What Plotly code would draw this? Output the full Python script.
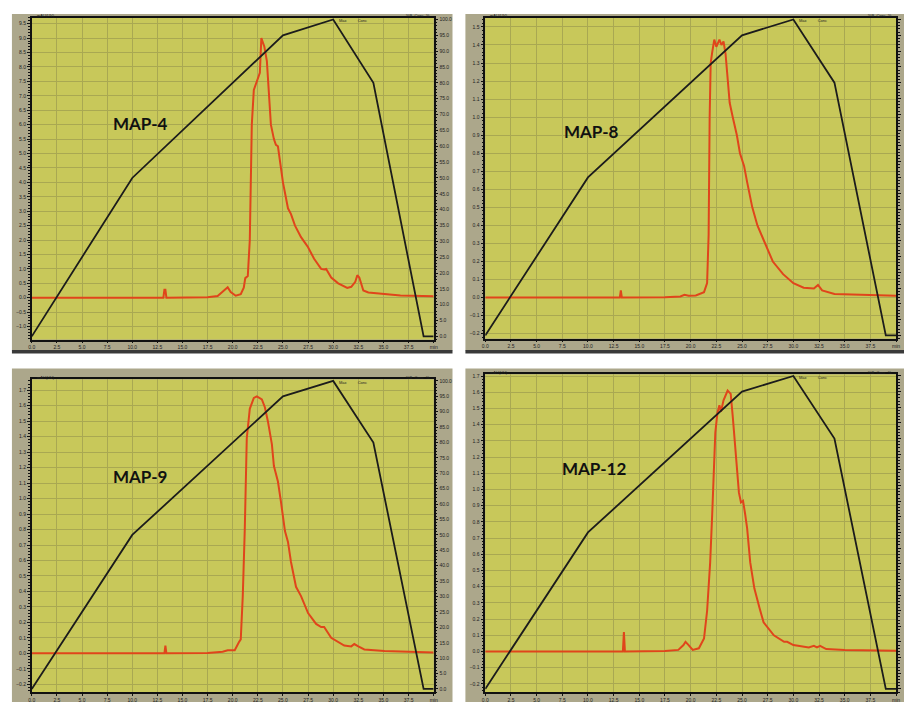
import plotly.graph_objects as go

W, H = 908, 703

# ---------------- data ----------------
x_tick_vals = [0, 2.5, 5, 7.5, 10, 12.5, 15, 17.5, 20, 22.5, 25, 27.5, 30, 32.5, 35, 37.5, 40]
x_tick_text = ["0.0", "2.5", "5.0", "7.5", "10.0", "12.5", "15.0", "17.5", "20.0",
               "22.5", "25.0", "27.5", "30.0", "32.5", "35.0", "37.5", "min"]

# solvent gradient (% B), shared by all four runs
grad_time = [0, 10, 25, 30, 34, 39, 40]
grad_pct = [0, 50, 95, 100, 80, 0, 0]

# MAP-4 absorbance trace
map4_time = [0, 13.1, 13.2, 13.3, 13.4,
             17.5, 18.5, 19.2, 19.5, 19.8,
             20.3, 20.8, 21.1, 21.25, 21.5,
             21.7, 21.9, 22.1, 22.5, 22.7,
             22.85, 23.0, 23.15, 23.4, 23.6,
             23.8, 24.1, 24.3, 24.5, 24.8,
             25.0, 25.5, 25.8, 26.2, 26.8,
             27.2, 27.5, 28.1, 28.8, 29.1,
             29.3, 29.8, 30.5, 31.4, 31.8,
             32.2, 32.4, 32.6, 33.0, 33.5,
             35.0, 36.7, 40.0]
map4_abs = [0, 0, 0.28, 0.28, 0.0,
            0.02, 0.06, 0.25, 0.36, 0.2,
            0.07, 0.12, 0.35, 0.68, 0.75,
            2.0, 6.0, 7.2, 7.6, 7.8,
            9.0, 8.8, 8.7, 8.2, 7.0,
            6.0, 5.5, 5.3, 5.25, 4.5,
            4.0, 3.1, 2.9, 2.5, 2.1,
            1.9, 1.75, 1.35, 1.0, 0.98,
            1.0, 0.7, 0.5, 0.34, 0.38,
            0.55, 0.78, 0.7, 0.25, 0.18,
            0.13, 0.08, 0.05]

# MAP-8 absorbance trace
map8_time = [0, 13.1, 13.2, 13.3, 17.5,
             19.0, 19.4, 19.8, 20.5, 21.3,
             21.6, 21.75, 21.85, 21.95, 22.1,
             22.3, 22.5, 22.8, 23.0, 23.2,
             23.4, 23.8, 24.1, 24.5, 24.8,
             25.2, 25.5, 26.0, 26.5, 27.0,
             27.5, 28.0, 29.0, 30.0, 31.0,
             32.0, 32.4, 32.8, 34.0, 40.0]
map8_abs = [0, 0, 0.04, 0.0, 0.002,
            0.006, 0.015, 0.01, 0.012, 0.03,
            0.08, 0.35, 1.0, 1.3, 1.36,
            1.43, 1.39, 1.43, 1.40, 1.42,
            1.35, 1.08, 1.0, 0.9, 0.8,
            0.73, 0.64, 0.5, 0.4, 0.33,
            0.27, 0.2, 0.13, 0.08, 0.055,
            0.05, 0.07, 0.04, 0.02, 0.01]

# MAP-9 absorbance trace
map9_time = [0, 13.2, 13.3, 13.4, 17.5,
             19.0, 19.5, 19.9, 20.2, 20.6,
             20.8, 21.0, 21.2, 21.4, 21.7,
             22.1, 22.4, 22.9, 23.2, 23.5,
             23.9, 24.1, 24.5, 24.8, 25.2,
             25.5, 25.8, 26.3, 26.8, 27.5,
             28.3, 28.8, 29.1, 29.8, 31.1,
             31.8, 32.1, 32.5, 33.1, 35.1,
             40.0]
map9_abs = [0, 0, 0.05, 0.0, 0.003,
            0.01, 0.02, 0.02, 0.02, 0.07,
            0.09, 0.37, 0.8, 1.39, 1.58,
            1.65, 1.66, 1.64, 1.59, 1.5,
            1.35, 1.21, 1.11, 0.98, 0.79,
            0.72, 0.59, 0.43, 0.37, 0.26,
            0.19, 0.17, 0.17, 0.10, 0.05,
            0.045, 0.06, 0.045, 0.025, 0.015,
            0.005]

# MAP-12 absorbance trace
map12_time = [0, 13.4, 13.5, 13.6, 17.5,
              18.8, 19.3, 19.5, 19.8, 20.2,
              20.8, 21.3, 21.6, 21.9, 22.1,
              22.4, 22.6, 22.8, 22.95, 23.2,
              23.6, 23.9, 24.1, 24.4, 24.7,
              24.9, 25.1, 25.3, 25.5, 25.8,
              26.2, 26.7, 27.1, 28.1, 29.1,
              29.4, 30.0, 31.5, 32.0, 32.3,
              32.6, 33.2, 35.0, 40.0]
map12_abs = [0, 0, 0.12, 0.0, 0.003,
             0.01, 0.04, 0.06, 0.04, 0.01,
             0.02, 0.08, 0.25, 0.55, 0.85,
             1.35, 1.47, 1.52, 1.48, 1.55,
             1.61, 1.59, 1.45, 1.2, 0.98,
             0.92, 0.93, 0.85, 0.76, 0.55,
             0.39, 0.27, 0.18, 0.1, 0.06,
             0.06, 0.04, 0.025, 0.035, 0.025,
             0.035, 0.015, 0.01, 0.005]

panel_labels = ["MAP-4", "MAP-8", "MAP-9", "MAP-12"]
abs_ranges = [[-1.45, 9.7], [-0.227, 1.55], [-0.25, 1.77], [-0.25, 1.71]]
abs_dticks = [0.5, 0.1, 0.1, 0.1]

# ---------------- layout geometry (pixels) ----------------
plots_px = [  # x0, x1, ytop, ybottom
    (29, 434, 16, 339),
    (486, 900, 16, 338),
    (29, 434, 379, 693),
    (486, 900, 374, 693),
]
frames_px = [
    (9, 453, 12, 350),
    (466, 908, 12, 350),
    (9, 453, 368, 703),
    (466, 908, 368, 703),
]
label_pos = [(139, 122), (593, 130), (138, 477), (596, 468)]

PLOT_BG = "#c8c85a"
FRAME = "#aca78b"
GRID = "#a9a852"
RED = "#e0451b"
BLACK = "#1c1c1c"

def px(x):
    return x / W

def py(y):
    return 1 - y / H

fig = go.Figure()
traces = [(map4_time, map4_abs), (map8_time, map8_abs), (map9_time, map9_abs), (map12_time, map12_abs)]

shapes = []
annotations = []
layout_axes = {}

for i in range(4):
    n = i + 1
    xname = "x" if n == 1 else f"x{n}"
    yl = 2 * n - 1
    yr = 2 * n
    ylname = "y" if yl == 1 else f"y{yl}"
    yrname = f"y{yr}"
    x0, x1, yt, yb = plots_px[i]
    fx0, fx1, fyt, fyb = frames_px[i]

    # frame and plotting area background
    shapes.append(dict(type="rect", xref="paper", yref="paper", layer="below",
                       x0=px(fx0), x1=px(fx1), y0=py(fyb), y1=py(fyt),
                       fillcolor=FRAME, line=dict(width=0)))
    shapes.append(dict(type="rect", xref="paper", yref="paper", layer="below",
                       x0=px(x0), x1=px(x1), y0=py(yb), y1=py(yt),
                       fillcolor=PLOT_BG, line=dict(width=0)))
    if i < 2:
        shapes.append(dict(type="rect", xref="paper", yref="paper", layer="below",
                           x0=px(fx0), x1=px(fx1), y0=py(353), y1=py(349.5),
                           fillcolor="#3a3a3a", line=dict(width=0)))

    t, a = traces[i]
    fig.add_trace(go.Scatter(x=t, y=a, mode="lines", xaxis=xname, yaxis=ylname,
                             line=dict(color=RED, width=2), showlegend=False,
                             hoverinfo="skip"))
    fig.add_trace(go.Scatter(x=grad_time, y=grad_pct, mode="lines", xaxis=xname, yaxis=yrname,
                             line=dict(color=BLACK, width=1.8), showlegend=False,
                             hoverinfo="skip"))

    xkey = "xaxis" if n == 1 else f"xaxis{n}"
    ylkey = "yaxis" if yl == 1 else f"yaxis{yl}"
    yrkey = f"yaxis{yr}"
    tickfont = dict(size=5, color="#222222", family="Liberation Sans")
    layout_axes[xkey] = dict(domain=[px(x0), px(x1)], anchor=ylname, range=[0, 40],
                             tickvals=x_tick_vals, ticktext=x_tick_text,
                             showgrid=True, gridcolor=GRID, gridwidth=1,
                             showline=True, linecolor="#111111", linewidth=1.5, mirror=True,
                             ticks="outside", ticklen=2, tickcolor="#111111",
                             tickfont=tickfont, zeroline=False, fixedrange=True)
    d = abs_dticks[i]
    layout_axes[ylkey] = dict(domain=[py(yb), py(yt)], anchor=xname, range=abs_ranges[i],
                              dtick=d, tick0=0, tickformat=".1f",
                              showgrid=True, gridcolor=GRID, gridwidth=1,
                              showline=True, linecolor="#111111", linewidth=1.5,
                              ticks="outside", ticklen=3, tickcolor="#111111",
                              minor=dict(ticks="outside", ticklen=2, dtick=d / 5,
                                         tickcolor="#111111", showgrid=False),
                              tickfont=tickfont, zeroline=False, fixedrange=True)
    layout_axes[yrkey] = dict(overlaying=ylname, side="right", anchor=xname,
                              range=[-1, 100.5], dtick=5, tick0=0, tickformat=".1f",
                              showgrid=False, showline=True, linecolor="#111111", linewidth=1.5,
                              ticks="outside", ticklen=3, tickcolor="#111111",
                              showticklabels=(i % 2 == 0),
                              minor=dict(ticks="outside", ticklen=2, dtick=1,
                                         tickcolor="#111111"),
                              tickfont=tickfont, zeroline=False, fixedrange=True)

    lx, ly = label_pos[i]
    annotations.append(dict(text="<b>" + panel_labels[i] + "</b>", xref="paper", yref="paper",
                            x=px(lx), y=py(ly), showarrow=False,
                            font=dict(size=17, color="#111111", family="Lato"),
                            xanchor="center", yanchor="middle"))
    # small instrument header texts
    annotations.append(dict(text="mAU(UV)", xref="paper", yref="paper",
                            x=px(x0 + 3), y=py(yt - 2), showarrow=False,
                            font=dict(size=4, color="#222222", family="Liberation Sans"),
                            xanchor="left", yanchor="middle"))
    annotations.append(dict(text="%B  Conc  %", xref="paper", yref="paper",
                            x=px(x1 - 2), y=py(yt - 2), showarrow=False,
                            font=dict(size=4, color="#222222", family="Liberation Sans"),
                            xanchor="right", yanchor="middle"))
    annotations.append(dict(text="Max          Conc   ", xref="paper", yref="paper",
                            x=px(x0 + (x1 - x0) * 0.76), y=py(yt + 3), showarrow=False,
                            font=dict(size=4, color="#222222", family="Liberation Sans"),
                            xanchor="left", yanchor="middle"))

fig.update_layout(
    width=W, height=H, autosize=False,
    margin=dict(l=0, r=0, t=0, b=0),
    paper_bgcolor="white", plot_bgcolor="rgba(0,0,0,0)",
    shapes=shapes, annotations=annotations,
    showlegend=False,
    **layout_axes,
)

fig.write_html("out.html", config={"displayModeBar": False},
               post_script="document.body.style.margin='0';document.body.style.overflow='hidden';")
